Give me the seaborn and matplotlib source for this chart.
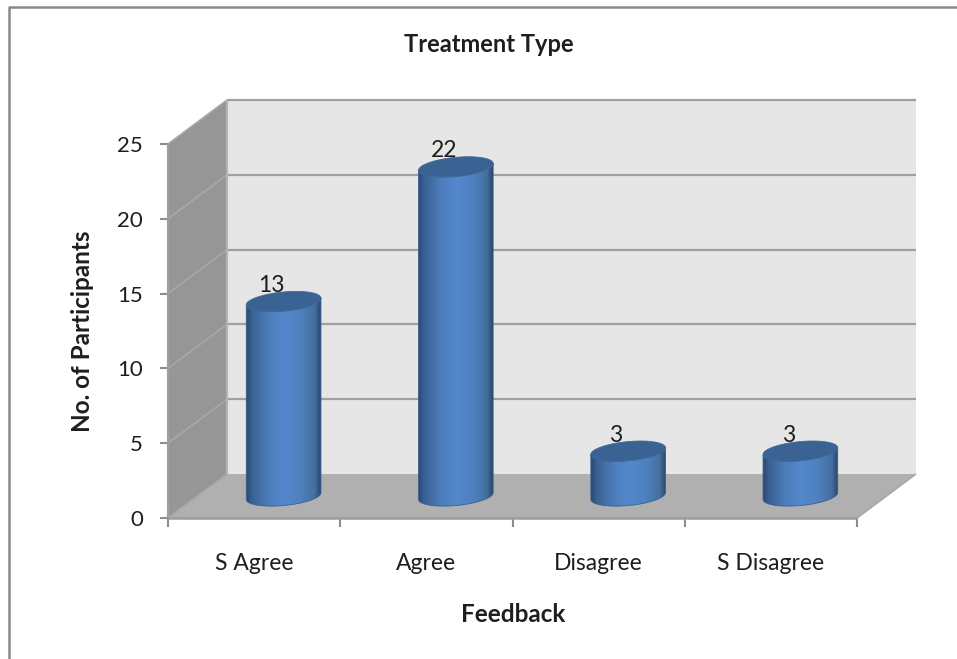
import numpy as np
import matplotlib
matplotlib.use('Agg')
import matplotlib.pyplot as plt
import seaborn as sns
from matplotlib.colors import LinearSegmentedColormap
from matplotlib.lines import Line2D
from matplotlib.patches import PathPatch, Polygon
from matplotlib.path import Path
from matplotlib.transforms import IdentityTransform

# Data
feedback = ['S Agree', 'Agree', 'Disagree', 'S Disagree']
participants = [13, 22, 3, 3]
y_ticks = [0, 5, 10, 15, 20, 25]

sns.set_style('white')
plt.rcParams['font.family'] = ['Lato', 'DejaVu Sans']

W, H = 957, 659
fig = plt.figure(figsize=(W / 100, H / 100), dpi=100)
# front plane of the fake 3D box
ax = fig.add_axes([168 / W, 1 - 518 / H, 689 / W, 374 / H])
ax.set_facecolor('none')

sns.barplot(x=feedback, y=participants, color='#4a78b5', width=75 / 172.25, ax=ax)
ax.set_xlim(-0.5, 3.5)
ax.set_ylim(0, 25)
bars = list(ax.containers[0])

DX, DY = 59, 44  # depth of the box in pixels
line_col = '#9c9c9c'
text_col = '#1e1e1e'


def px(x, y):
    return ax.transData.transform((x, y))


def add_poly(points, **kw):
    ax.add_patch(Polygon(points, closed=True, transform=IdentityTransform(), clip_on=False, **kw))


def add_line(points, color=line_col, lw=1.6, zorder=1):
    pts = np.array(points)
    ax.plot(pts[:, 0], pts[:, 1], color=color, lw=lw, transform=IdentityTransform(),
            clip_on=False, solid_capstyle='butt', zorder=zorder)


# walls and floor
x0, x1 = ax.get_xlim()
fl, fr = px(x0, 0), px(x1, 0)
tl, tr = px(x0, 25), px(x1, 25)
d = np.array([DX, DY])
add_poly([fl + d, fr + d, tr + d, tl + d], facecolor='#e6e6e6', edgecolor='none', zorder=0)
add_poly([fl, fl + d, tl + d, tl], facecolor='#969696', edgecolor='none', zorder=0)
add_poly([fl, fr, fr + d, fl + d], facecolor='#b0b0b0', edgecolor='none', zorder=0)

for t in y_ticks:
    p, q = px(x0, t), px(x1, t)
    if t > 0:
        add_line([p + d, q + d], color='#a0a0a0')
    add_line([p, p + d], color='#a8a8a8', lw=1.2)
add_line([fl + d, tl + d], color='#b4b4b4', lw=1.6)
add_line([fl, fr], color='#9c9c9c', lw=1.8, zorder=2)
add_line([fr, fr + d], color='#a8a8a8', lw=1.2)
add_line([fl, tl], color='#a0a0a0', lw=1.6)

# cylinders
cmap = LinearSegmentedColormap.from_list('cyl', [
    (0.0, '#2b4972'), (0.08, '#3a6193'), (0.3, '#4c7dbb'), (0.5, '#5488cd'),
    (0.72, '#4f82c1'), (0.92, '#44709f'), (1.0, '#2a466e')])
ANGLE = 5.5
RY = 9.5


def half_ellipse(cx, cy, rx, lower):
    # half of a tilted ellipse, going left to right
    t = np.linspace(np.pi, 2 * np.pi, 40) if lower else np.linspace(np.pi, 0, 40)
    a = np.radians(ANGLE)
    ex, ey = rx * np.cos(t), RY * np.sin(t)
    return np.column_stack([cx + ex * np.cos(a) - ey * np.sin(a), cy + ex * np.sin(a) + ey * np.cos(a)])


for bar in bars:
    bx = bar.get_x() + bar.get_width() / 2
    base = px(bx, 0) + [DX / 2, DY / 2]
    top = px(bx, bar.get_height()) + [DX / 2, DY / 2]
    rx = bar.get_width() * 172.25 / 2
    lower = half_ellipse(base[0], base[1], rx, True)
    upper = half_ellipse(top[0], top[1], rx, True)
    verts = np.vstack([lower, upper[::-1], lower[:1]])
    body = PathPatch(Path(verts), transform=IdentityTransform(), facecolor='none',
                     edgecolor='#3a5f90', lw=0.6, zorder=4)
    ax.add_patch(body)
    im = ax.imshow(np.linspace(0, 1, 128).reshape(1, -1), cmap=cmap, aspect='auto',
                   extent=(base[0] - rx, base[0] + rx, base[1] - 15, top[1] + 15),
                   transform=IdentityTransform(), zorder=3)
    im.set_clip_path(body)
    cap = np.vstack([half_ellipse(top[0], top[1], rx, True), half_ellipse(top[0], top[1], rx, False)[::-1]])
    ax.add_patch(PathPatch(Path(np.vstack([cap, cap[:1]])), transform=IdentityTransform(),
                           facecolor='#3a6292', edgecolor='#3f6899', lw=0.6, zorder=5))
    ax.text(top[0] - 12, top[1] + 9.5, f'{bar.get_height():.0f}', transform=IdentityTransform(),
            ha='center', va='baseline', fontsize=16.5, color=text_col, zorder=6, clip_on=False)
    bar.set_visible(False)

ax.set_xlim(x0, x1)
ax.set_ylim(0, 25)

# axes
sns.despine(ax=ax, left=True, bottom=True, top=True, right=True)
ax.set_yticks(y_ticks)
ax.set_xticks(range(len(feedback)))
ax.set_xticklabels(feedback)
ax.set_xticks(np.arange(-0.5, 4), minor=True)
ax.tick_params(axis='y', which='major', left=True, length=6, width=1.5, color='#8c8c8c',
               labelsize=16, labelcolor=text_col, pad=12)
ax.tick_params(axis='x', which='minor', bottom=True, length=6.5, width=1.5, color='#8c8c8c')
ax.tick_params(axis='x', which='major', bottom=False, labelsize=16.5, labelcolor=text_col, pad=22)
ax.set_xlabel('Feedback', fontsize=17.5, fontweight='bold', color=text_col)
ax.xaxis.set_label_coords((513 - 168) / 689, (518 - 614) / 374, transform=ax.transAxes)
ax.xaxis.label.set_va('center')
ax.set_ylabel('No. of Participants', fontsize=17.5, fontweight='bold', color=text_col)
ax.yaxis.set_label_coords((82 - 168) / 689, (518 - 331) / 374, transform=ax.transAxes)
ax.yaxis.label.set_va('center')

fig.text(489 / W, 1 - 45 / H, 'Treatment Type', ha='center', va='center', fontsize=17,
         fontweight='bold', color=text_col)

# chart area border, only top and left are in the picture
fig.add_artist(Line2D([9 / W, 9 / W, 1], [0, 1 - 6.5 / H, 1 - 6.5 / H], transform=fig.transFigure,
                      color='#8a8a8a', lw=1.8))

fig.savefig('out.png', dpi=100)
